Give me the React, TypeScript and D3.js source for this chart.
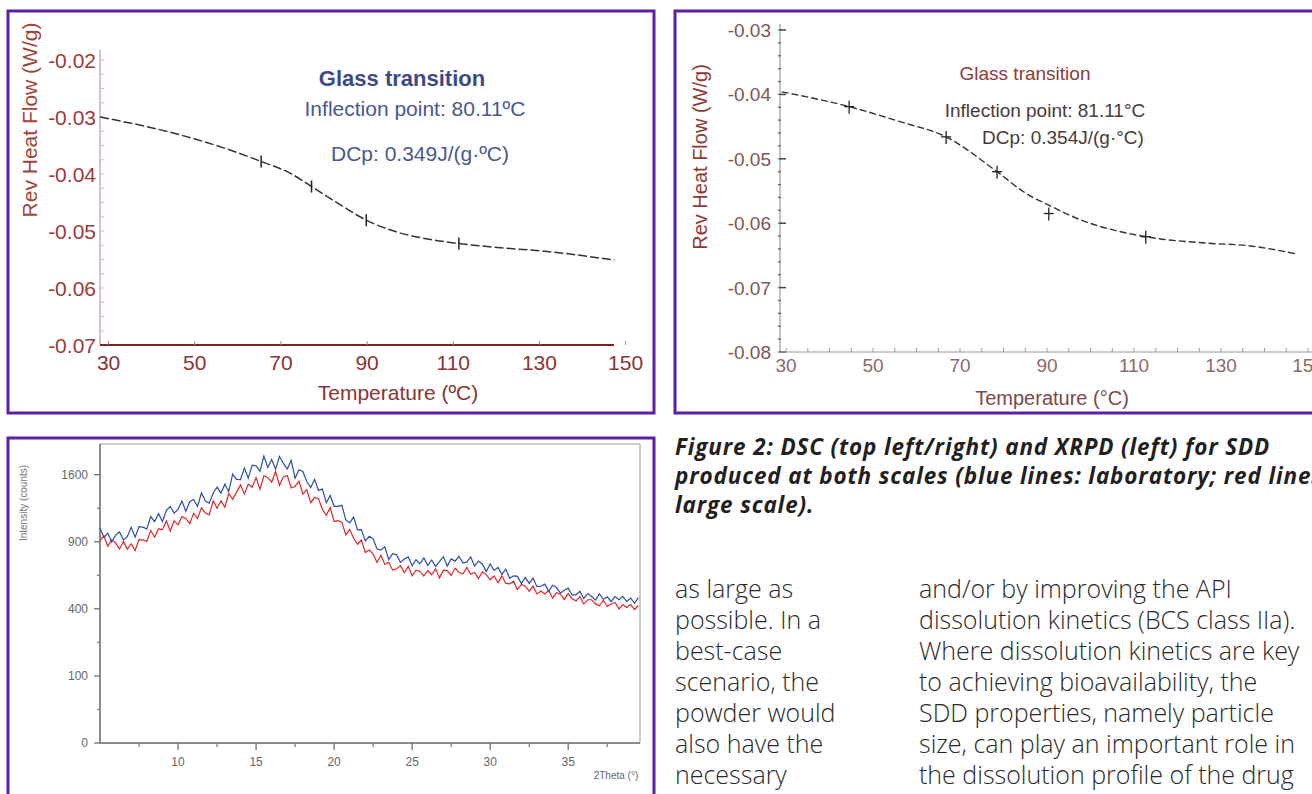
import React from "react";
import * as d3 from "d3";

// ---------- Panel 1 (DSC, laboratory) ----------
const P1_TEMP = [28, 43.9, 55, 65.4, 72, 77.1, 84, 89.8, 97, 104, 111.3, 122.0, 131.8, 147.4];
const P1_FLOW = [-0.03, -0.0326, -0.035, -0.0378, -0.0398, -0.0422, -0.0455, -0.0481, -0.0502, -0.0514, -0.0522, -0.053, -0.0536, -0.0551];
const P1_MARK_TEMP = [65.4, 77.1, 89.8, 111.3];
const P1_MARK_FLOW = [-0.0378, -0.0422, -0.0481, -0.0522];
const P1_YTICKS = [-0.02, -0.03, -0.04, -0.05, -0.06, -0.07];
const P1_XTICKS = [30, 50, 70, 90, 110, 130, 150];
const P1_NOTES = ["Glass transition", "Inflection point: 80.11ºC", "DCp: 0.349J/(g·ºC)"];

// ---------- Panel 2 (DSC, large scale) ----------
const P2_TEMP = [29, 44.5, 56, 66.8, 78.5, 85, 90.4, 97.8, 112.7, 126.8, 136.4, 147.5];
const P2_FLOW = [-0.0396, -0.0419, -0.0442, -0.0466, -0.052, -0.0553, -0.0572, -0.0595, -0.0621, -0.0631, -0.0635, -0.0648];
const P2_MARK_TEMP = [44.5, 66.8, 78.5, 90.4, 112.7];
const P2_MARK_FLOW = [-0.0419, -0.0466, -0.052, -0.0585, -0.0621];
const P2_YTICKS = [-0.03, -0.04, -0.05, -0.06, -0.07, -0.08];
const P2_XTICKS = [30, 50, 70, 90, 110, 130, 150];
const P2_NOTES = ["Glass transition", "Inflection point: 81.11°C", "DCp: 0.354J/(g·°C)"];

// ---------- Panel 3 (XRPD), 2Theta from 5° in 0.25° steps ----------
const XRPD_START = 5;
const XRPD_STEP = 0.25;
const XRPD_LAB = [
  1024, 939, 979, 898, 960, 990, 917, 946, 1034, 942, 1040, 1035, 1018, 1139, 1088, 1169,
  1090, 1202, 1243, 1174, 1213, 1302, 1192, 1293, 1318, 1243, 1389, 1301, 1278, 1386, 1456, 1387,
  1489, 1405, 1607, 1544, 1542, 1680, 1558, 1715, 1707, 1640, 1829, 1686, 1785, 1665, 1825, 1738,
  1668, 1775, 1560, 1658, 1638, 1519, 1450, 1544, 1416, 1432, 1283, 1362, 1245, 1244, 1255, 1106,
  1077, 1134, 1009, 1012, 907, 950, 926, 836, 827, 856, 747, 796, 788, 725, 752, 770,
  698, 746, 713, 761, 700, 744, 693, 732, 772, 696, 753, 735, 775, 722, 727, 770,
  696, 736, 712, 653, 712, 662, 685, 632, 672, 603, 621, 617, 565, 609, 566, 603,
  543, 546, 561, 511, 553, 537, 499, 519, 533, 487, 487, 512, 463, 496, 477, 454,
  494, 459, 475, 445, 476, 456, 478, 445, 467, 434, 470,
];
const XRPD_LARGE = [
  911, 955, 860, 919, 889, 835, 903, 836, 882, 823, 920, 917, 902, 1003, 941, 1020,
  1010, 1097, 998, 1097, 1058, 1139, 1121, 1069, 1174, 1120, 1229, 1176, 1157, 1302, 1225, 1301,
  1235, 1383, 1319, 1399, 1481, 1378, 1489, 1453, 1565, 1432, 1586, 1566, 1513, 1636, 1477, 1574,
  1591, 1445, 1465, 1523, 1377, 1427, 1283, 1339, 1326, 1213, 1152, 1233, 1091, 1099, 1082, 962,
  1014, 931, 878, 916, 806, 828, 793, 724, 784, 708, 726, 664, 673, 699, 645, 693,
  622, 664, 654, 619, 662, 629, 674, 604, 664, 661, 624, 678, 648, 634, 685, 633,
  646, 600, 650, 630, 592, 620, 571, 621, 566, 563, 582, 523, 559, 546, 512, 547,
  494, 514, 493, 517, 467, 502, 492, 458, 496, 462, 448, 475, 429, 456, 456, 430,
  418, 453, 415, 429, 439, 399, 426, 408, 427, 396, 420,
];
const XRPD_YTICKS = [1600, 900, 400, 100, 0];
const XRPD_YMINOR = [1225, 625, 225, 25];
const XRPD_XTICKS = [10, 15, 20, 25, 30, 35];
const XRPD_XMINOR = [7.5, 12.5, 17.5, 22.5, 27.5, 32.5, 37.5];

// ---------- Text ----------
const CAPTION = [
  "Figure 2: DSC (top left/right) and XRPD (left) for SDD",
  "produced at both scales (blue lines: laboratory; red lines:",
  "large scale).",
];
const BODY_COL1 = ["as large as", "possible. In a", "best-case", "scenario, the", "powder would", "also have the", "necessary"];
const BODY_COL2 = [
  "and/or by improving the API",
  "dissolution kinetics (BCS class IIa).",
  "Where dissolution kinetics are key",
  "to achieving bioavailability, the",
  "SDD properties, namely particle",
  "size, can play an important role in",
  "the dissolution profile of the drug",
];

const PURPLE = "#5c1fa8";
const ARIAL = "'Liberation Sans', Arial, sans-serif";
const TEXT_FONT = "'Open Sans', Lato, sans-serif";

function Panel1() {
  const x = d3.scaleLinear().domain([28, 148]).range([100, 617]);
  const y = d3.scaleLinear().domain([-0.07, -0.02]).range([345, 60]);
  const line = d3
    .line<number>()
    .x((_, i) => x(P1_TEMP[i]))
    .y((d) => y(d))
    .curve(d3.curveMonotoneX);
  return (
    <g>
      <rect x={8} y={11} width={646} height={402} fill="#fff" stroke={PURPLE} strokeWidth={3} />
      <line x1={100} x2={100} y1={50} y2={345} stroke="#c49a9a" strokeWidth={1.2} />
      {d3.range(-0.07, -0.0195, 0.0025).map((v, i) => (
        <line key={i} x1={100} x2={104} y1={y(v)} y2={y(v)} stroke="#d8c0c0" strokeWidth={1} />
      ))}
      <line x1={100} x2={614} y1={345} y2={345} stroke="#7a2424" strokeWidth={2} />
      {P1_XTICKS.map((t) => (
        <line key={t} x1={x(t)} x2={x(t)} y1={345} y2={341} stroke="#b08080" strokeWidth={1} />
      ))}
      {P1_YTICKS.map((v) => (
        <text key={v} x={96} y={y(v) + 8} textAnchor="end" fontFamily={ARIAL} fontSize={21} fill="#9c3a3a">
          {v.toFixed(2)}
        </text>
      ))}
      {P1_XTICKS.map((t) => (
        <text key={t} x={x(t)} y={370} textAnchor="middle" fontFamily={ARIAL} fontSize={21} fill="#8a3434">
          {t}
        </text>
      ))}
      <text x={398} y={400} textAnchor="middle" fontFamily={ARIAL} fontSize={21} fill="#8a3434">
        Temperature (ºC)
      </text>
      <text
        transform="translate(37,120) rotate(-90)"
        textAnchor="middle"
        fontFamily={ARIAL}
        fontSize={21}
        fill="#a04438"
      >
        Rev Heat Flow (W/g)
      </text>
      <path d={line(P1_FLOW) || ""} fill="none" stroke="#333" strokeWidth={1.5} strokeDasharray="9 3" />
      {P1_MARK_TEMP.map((t, i) => (
        <line key={t} x1={x(t)} x2={x(t)} y1={y(P1_MARK_FLOW[i]) - 6} y2={y(P1_MARK_FLOW[i]) + 6} stroke="#222" strokeWidth={1.5} />
      ))}
      <text x={402} y={86} textAnchor="middle" fontFamily={ARIAL} fontSize={22} fontWeight="bold" fill="#3c4a8a">
        {P1_NOTES[0]}
      </text>
      <text x={415} y={116} textAnchor="middle" fontFamily={ARIAL} fontSize={21} fill="#4a5890">
        {P1_NOTES[1]}
      </text>
      <text x={420} y={161} textAnchor="middle" fontFamily={ARIAL} fontSize={21} fill="#4a5890">
        {P1_NOTES[2]}
      </text>
    </g>
  );
}

function Panel2() {
  const x = d3.scaleLinear().domain([28.6, 150]).range([780, 1308]);
  const y = d3.scaleLinear().domain([-0.08, -0.03]).range([352, 30]);
  const line = d3
    .line<number>()
    .x((_, i) => x(P2_TEMP[i]))
    .y((d) => y(d))
    .curve(d3.curveMonotoneX);
  return (
    <g>
      <rect x={675} y={11} width={660} height={402} fill="#fff" stroke={PURPLE} strokeWidth={3} />
      <line x1={780} x2={780} y1={24} y2={352} stroke="#888" strokeWidth={1} />
      {d3.range(-0.08, -0.0295, 0.002).map((v, i) => (
        <line key={i} x1={778} x2={781} y1={y(v)} y2={y(v)} stroke="#666" strokeWidth={1.3} />
      ))}
      {P2_YTICKS.map((v) => (
        <line key={v} x1={780} x2={786} y1={y(v)} y2={y(v)} stroke="#444" strokeWidth={1.5} />
      ))}
      <line x1={780} x2={1312} y1={352} y2={352} stroke="#999" strokeWidth={1.2} />
      {d3.range(30, 151, 5).map((t) => (
        <line key={t} x1={x(t)} x2={x(t)} y1={352} y2={348} stroke="#999" strokeWidth={1} />
      ))}
      {P2_YTICKS.map((v) => (
        <text key={v} x={771} y={y(v) + 7} textAnchor="end" fontFamily={ARIAL} fontSize={19} fill="#7a5656">
          {v.toFixed(2)}
        </text>
      ))}
      {P2_XTICKS.map((t) => (
        <text key={t} x={x(t)} y={372} textAnchor="middle" fontFamily={ARIAL} fontSize={19} fill="#8a6a6a">
          {t}
        </text>
      ))}
      <text x={1052} y={405} textAnchor="middle" fontFamily={ARIAL} fontSize={20} fill="#7a4a4a">
        Temperature (°C)
      </text>
      <text
        transform="translate(707,157) rotate(-90)"
        textAnchor="middle"
        fontFamily={ARIAL}
        fontSize={20}
        fill="#8e3b30"
      >
        Rev Heat Flow (W/g)
      </text>
      <path d={line(P2_FLOW) || ""} fill="none" stroke="#333" strokeWidth={1.4} strokeDasharray="7 3" />
      {P2_MARK_TEMP.map((t, i) => (
        <g key={t}>
          <line x1={x(t)} x2={x(t)} y1={y(P2_MARK_FLOW[i]) - 6} y2={y(P2_MARK_FLOW[i]) + 7} stroke="#222" strokeWidth={1.3} />
          <line x1={x(t) - 5} x2={x(t) + 5} y1={y(P2_MARK_FLOW[i])} y2={y(P2_MARK_FLOW[i])} stroke="#222" strokeWidth={1.3} />
        </g>
      ))}
      <text x={1025} y={80} textAnchor="middle" fontFamily={ARIAL} fontSize={19} fill="#8e3b3b">
        {P2_NOTES[0]}
      </text>
      <text x={1045} y={117} textAnchor="middle" fontFamily={ARIAL} fontSize={19} fill="#4a3a3a">
        {P2_NOTES[1]}
      </text>
      <text x={1063} y={144} textAnchor="middle" fontFamily={ARIAL} fontSize={19} fill="#4a3a3a">
        {P2_NOTES[2]}
      </text>
    </g>
  );
}

function Panel3() {
  const x = d3.scaleLinear().domain([5, 39.6]).range([100, 640]);
  const y = d3.scaleSqrt().domain([0, 2000]).range([743, 443]);
  const line = d3
    .line<number>()
    .x((_, i) => x(XRPD_START + i * XRPD_STEP))
    .y((d) => y(d));
  return (
    <g>
      <rect x={8} y={438} width={646} height={400} fill="#fff" stroke={PURPLE} strokeWidth={3} />
      <line x1={100} x2={640} y1={444} y2={444} stroke="#bbb" strokeWidth={1.5} />
      <line x1={640} x2={640} y1={444} y2={743} stroke="#bbb" strokeWidth={1.5} />
      <line x1={100} x2={100} y1={444} y2={743} stroke="#666" strokeWidth={1.5} />
      <line x1={100} x2={640} y1={743} y2={743} stroke="#666" strokeWidth={1.5} />
      {XRPD_YTICKS.map((v) => (
        <g key={v}>
          <line x1={94} x2={100} y1={y(v)} y2={y(v)} stroke="#666" strokeWidth={1.2} />
          <text x={88} y={y(v) + 4} textAnchor="end" fontFamily={ARIAL} fontSize={12} fill="#666">
            {v}
          </text>
        </g>
      ))}
      {XRPD_YMINOR.map((v) => (
        <line key={v} x1={97} x2={100} y1={y(v)} y2={y(v)} stroke="#777" strokeWidth={1.2} />
      ))}
      {XRPD_XTICKS.map((t) => (
        <g key={t}>
          <line x1={x(t)} x2={x(t)} y1={743} y2={750} stroke="#666" strokeWidth={1.2} />
          <text x={x(t)} y={766} textAnchor="middle" fontFamily={ARIAL} fontSize={12} fill="#666">
            {t}
          </text>
        </g>
      ))}
      {XRPD_XMINOR.map((t) => (
        <line key={t} x1={x(t)} x2={x(t)} y1={743} y2={747} stroke="#777" strokeWidth={1.2} />
      ))}
      <text x={616} y={779} textAnchor="middle" fontFamily={ARIAL} fontSize={10} fill="#666">
        2Theta (°)
      </text>
      <text
        transform="translate(27,503) rotate(-90)"
        textAnchor="middle"
        fontFamily={ARIAL}
        fontSize={10}
        fill="#777"
      >
        Intensity (counts)
      </text>
      <path d={line(XRPD_LARGE) || ""} fill="none" stroke="#e3262a" strokeWidth={1.2} />
      <path d={line(XRPD_LAB) || ""} fill="none" stroke="#2c4ea8" strokeWidth={1.2} />
    </g>
  );
}

function TextBlock() {
  return (
    <g>
      {CAPTION.map((s, i) => (
        <text
          key={i}
          x={675}
          y={455 + i * 28.8}
          fontFamily={TEXT_FONT}
          fontStyle="italic"
          fontWeight="bold"
          fontSize={22.5}
          letterSpacing={0.85}
          fill="#231f20"
        >
          {s}
        </text>
      ))}
      {BODY_COL1.map((s, i) => (
        <text key={i} x={675} y={598 + i * 31} fontFamily={TEXT_FONT} fontWeight={300} fontSize={25} fill="#2a2a2a">
          {s}
        </text>
      ))}
      {BODY_COL2.map((s, i) => (
        <text key={i} x={919} y={598 + i * 31} fontFamily={TEXT_FONT} fontWeight={300} fontSize={25} fill="#2a2a2a">
          {s}
        </text>
      ))}
    </g>
  );
}

export default function App() {
  return (
    <svg
      width={1312}
      height={794}
      viewBox="0 0 1312 794"
      style={{ position: "absolute", left: 0, top: 0, background: "#fff", overflow: "hidden" }}
    >
      <rect x={0} y={0} width={1312} height={794} fill="#fff" />
      <Panel1 />
      <Panel2 />
      <Panel3 />
      <TextBlock />
    </svg>
  );
}
